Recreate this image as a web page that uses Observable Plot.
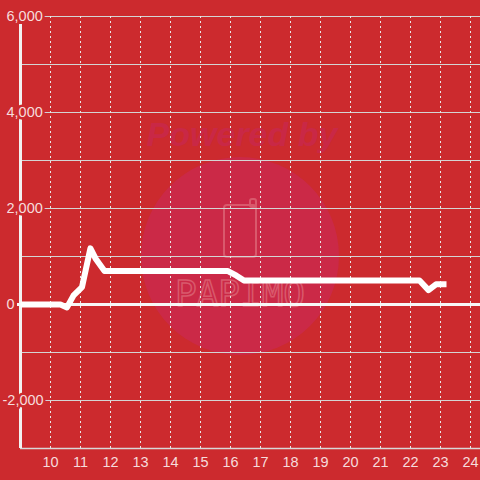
<!DOCTYPE html>
<html>
<head>
<meta charset="utf-8">
<script src="https://cdn.jsdelivr.net/npm/d3@7"></script>
<script src="https://cdn.jsdelivr.net/npm/@observablehq/plot@0.6"></script>
<style>
  html, body { margin: 0; padding: 0; background: #cc2a2e; }
  #chart { width: 480px; height: 480px; }
</style>
</head>
<body>
<div id="chart"></div>
<script>
// Data
const xs = [9, 10.33, 10.55, 10.77, 11.05, 11.33, 11.5, 11.8, 15.9, 16.2, 16.45, 22.3, 22.6, 22.85, 23.2];
const ys = [0, 0, -60, 190, 360, 1170, 960, 700, 700, 600, 500, 500, 300, 420, 420];
const xTicks = [10, 11, 12, 13, 14, 15, 16, 17, 18, 19, 20, 21, 22, 23, 24];
const yTicks = [-3000, -2000, -1000, 0, 1000, 2000, 3000, 4000, 5000, 6000];
const yLabelValues = [6000, 4000, 2000, 0, -2000];

const bg = "#cc2a2e";
const labelColor = "#f6dcdc";
const data = xs.map((x, i) => ({x, y: ys[i]}));
const fmt = d3.format(",");

const plot = Plot.plot({
  width: 480,
  height: 480,
  marginLeft: 20,
  marginRight: 0,
  marginTop: 16,
  marginBottom: 32,
  style: {background: bg, fontFamily: "Liberation Sans, Arial, sans-serif"},
  x: {domain: [9, 24.3333], axis: null},
  y: {domain: [-3000, 6000], axis: null},
  marks: [
    Plot.ruleY(yTicks.filter(d => d !== 0 && d !== -3000), {stroke: "#d4d4d4", strokeWidth: 1, x1: 9, x2: 24.3333}),
    Plot.ruleX(xTicks, {stroke: "#e8e8e8", strokeWidth: 1, strokeDasharray: "2,3", y1: -3000, y2: 6000}),
    Plot.ruleY([-3000], {stroke: "#d8d8d8", strokeWidth: 1.5}),
    Plot.ruleX([9], {stroke: "#f2f2f2", strokeWidth: 3, y1: -3000, y2: 5833}),
    Plot.ruleY([0], {stroke: "#f7f7f7", strokeWidth: 3, x1: 8.9, x2: 24.3333}),
    Plot.line(data, {x: "x", y: "y", stroke: "#ffffff", strokeWidth: 6, strokeLinejoin: "round", strokeLinecap: "butt"}),
    Plot.text(yLabelValues.filter(d => d >= 0), {x: 9, y: d => d, text: d => fmt(d), textAnchor: "start", dx: -14, fill: labelColor, stroke: bg, strokeWidth: 5, fontSize: 14.5}),
    Plot.text(yLabelValues.filter(d => d < 0), {x: 9, y: d => d, text: d => fmt(d).replace("−", "-"), textAnchor: "start", dx: -18, fill: labelColor, stroke: bg, strokeWidth: 5, fontSize: 14.5}),
    Plot.text(xTicks, {x: d => d, y: -3000, dy: 14, text: d => String(d), fill: labelColor, fontSize: 14.5})
  ]
});

// watermark behind the grid
const svg = d3.select(plot);
const wm = svg.insert("g", ":first-child");
wm.append("circle").attr("cx", 240).attr("cy", 256).attr("r", 99).attr("fill", "#cb2947");
wm.append("text").attr("x", 242).attr("y", 146).attr("text-anchor", "middle")
  .attr("font-family", "Liberation Sans, Arial, sans-serif").attr("font-size", 34)
  .attr("font-weight", "bold").attr("font-style", "italic").attr("fill", "#c92846").text("Powered by");
wm.append("rect").attr("x", 224).attr("y", 205).attr("width", 32).attr("height", 52).attr("rx", 3)
  .attr("fill", "none").attr("stroke", "#d9596c").attr("stroke-width", 2);
wm.append("rect").attr("x", 250).attr("y", 199).attr("width", 6).attr("height", 8).attr("rx", 2)
  .attr("fill", "none").attr("stroke", "#d9596c").attr("stroke-width", 2);
wm.append("text").attr("x", 240).attr("y", 306).attr("text-anchor", "middle")
  .attr("font-family", "DejaVu Sans Mono, monospace").attr("font-size", 36).attr("letter-spacing", 0)
  .attr("fill", "none").attr("stroke", "#d9596c").attr("stroke-width", 1.5).text("PAPIMO");
document.getElementById("chart").appendChild(plot);
</script>
</body>
</html>
